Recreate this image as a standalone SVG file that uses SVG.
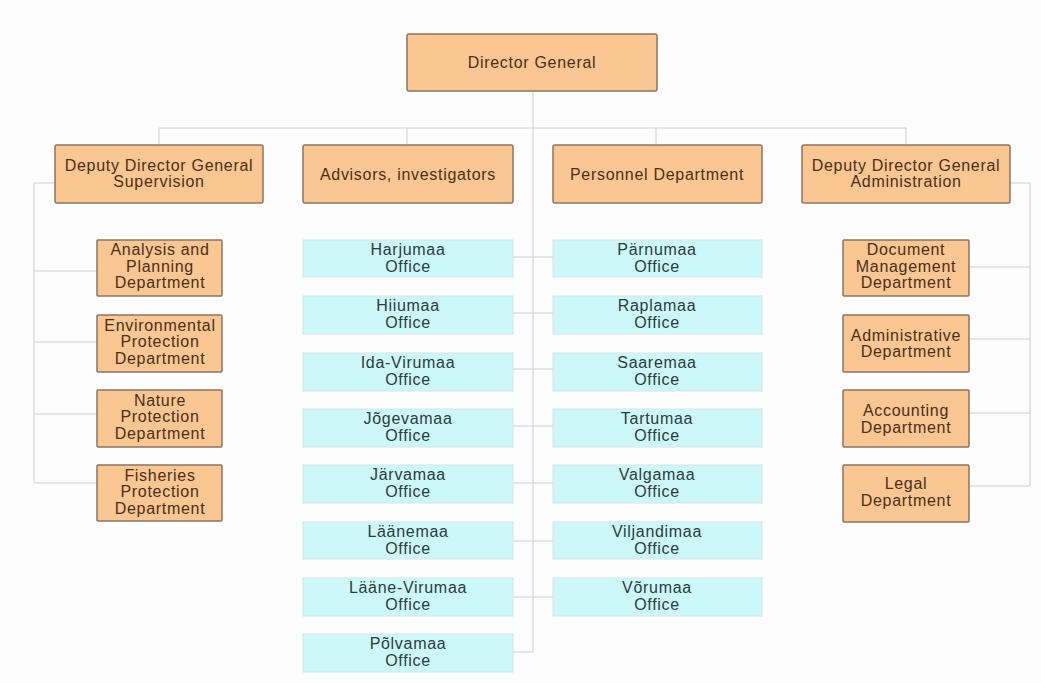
<svg xmlns="http://www.w3.org/2000/svg" width="1041" height="683" viewBox="0 0 1041 683">
<style>
.o rect{fill:#FAC691;stroke:#8a7562;stroke-width:1.5}
.c rect{fill:#CDF8FA;stroke:#d2e6e6;stroke-width:1}
text{font-family:"Liberation Sans",Arial,sans-serif;font-size:16px;letter-spacing:0.7px;text-anchor:middle}
.o text{fill:#4a3019}
.c text{fill:#2c3b3c}
#connectors path{fill:none;stroke:#c9d0d0;stroke-width:1}
</style>
<rect width="1041" height="683" fill="#fdfdfd"/>
<g id="connectors">
<path d="M533 91V652M159 128H906M159 128V145M407 128V145M656 128V145M906 128V145"/>
<path d="M55 183H34V483M34 271H97M34 342H97M34 414H97M34 483H97"/>
<path d="M1010 183H1030V486M969 267H1030M969 339H1030M969 413H1030M969 486H1030"/>
<path d="M513 257H533M513 313H533M513 369H533M513 426H533M513 483H533M513 541H533M513 597H533M513 652H533"/>
<path d="M533 257H553M533 313H553M533 369H553M533 426H553M533 483H553M533 541H553M533 597H553"/>
</g>
<g id="director-general" class="o"><rect x="407" y="34" width="250" height="57" rx="2"/><text x="532" y="68">Director General</text></g>
<g id="ddg-supervision" class="o"><rect x="55" y="145" width="208" height="58" rx="2"/><text x="159" y="171">Deputy Director General</text><text x="159" y="187">Supervision</text></g>
<g id="advisors" class="o"><rect x="303" y="145" width="210" height="58" rx="2"/><text x="408" y="180">Advisors, investigators</text></g>
<g id="personnel" class="o"><rect x="553" y="145" width="209" height="58" rx="2"/><text x="657" y="180">Personnel Department</text></g>
<g id="ddg-administration" class="o"><rect x="802" y="145" width="208" height="58" rx="2"/><text x="906" y="171">Deputy Director General</text><text x="906" y="187">Administration</text></g>
<g id="analysis" class="o"><rect x="97" y="240" width="125" height="56" rx="1"/><text x="160" y="255">Analysis and</text><text x="160" y="272">Planning</text><text x="160" y="288">Department</text></g>
<g id="environmental" class="o"><rect x="97" y="315" width="125" height="57" rx="1"/><text x="160" y="331">Environmental</text><text x="160" y="347">Protection</text><text x="160" y="364">Department</text></g>
<g id="nature" class="o"><rect x="97" y="390" width="125" height="57" rx="1"/><text x="160" y="406">Nature</text><text x="160" y="422">Protection</text><text x="160" y="439">Department</text></g>
<g id="fisheries" class="o"><rect x="97" y="465" width="125" height="56" rx="1"/><text x="160" y="481">Fisheries</text><text x="160" y="497">Protection</text><text x="160" y="514">Department</text></g>
<g id="document" class="o"><rect x="843" y="240" width="126" height="56" rx="1"/><text x="906" y="255">Document</text><text x="906" y="272">Management</text><text x="906" y="288">Department</text></g>
<g id="administrative" class="o"><rect x="843" y="315" width="126" height="57" rx="1"/><text x="906" y="341">Administrative</text><text x="906" y="357">Department</text></g>
<g id="accounting" class="o"><rect x="843" y="390" width="126" height="57" rx="1"/><text x="906" y="416">Accounting</text><text x="906" y="433">Department</text></g>
<g id="legal" class="o"><rect x="843" y="465" width="126" height="57" rx="1"/><text x="906" y="489">Legal</text><text x="906" y="506">Department</text></g>
<g id="harjumaa" class="c"><rect x="303" y="240" width="210" height="37"/><text x="408" y="255">Harjumaa</text><text x="408" y="272">Office</text></g>
<g id="hiiumaa" class="c"><rect x="303" y="296" width="210" height="38"/><text x="408" y="311">Hiiumaa</text><text x="408" y="328">Office</text></g>
<g id="ida-virumaa" class="c"><rect x="303" y="353" width="210" height="38"/><text x="408" y="368">Ida-Virumaa</text><text x="408" y="385">Office</text></g>
<g id="jogevamaa" class="c"><rect x="303" y="409" width="210" height="38"/><text x="408" y="424">Jõgevamaa</text><text x="408" y="441">Office</text></g>
<g id="jarvamaa" class="c"><rect x="303" y="465" width="210" height="38"/><text x="408" y="480">Järvamaa</text><text x="408" y="497">Office</text></g>
<g id="laanemaa" class="c"><rect x="303" y="522" width="210" height="37"/><text x="408" y="537">Läänemaa</text><text x="408" y="554">Office</text></g>
<g id="laane-virumaa" class="c"><rect x="303" y="578" width="210" height="38"/><text x="408" y="593">Lääne-Virumaa</text><text x="408" y="610">Office</text></g>
<g id="polvamaa" class="c"><rect x="303" y="634" width="210" height="38"/><text x="408" y="649">Põlvamaa</text><text x="408" y="666">Office</text></g>
<g id="parnumaa" class="c"><rect x="553" y="240" width="209" height="37"/><text x="657" y="255">Pärnumaa</text><text x="657" y="272">Office</text></g>
<g id="raplamaa" class="c"><rect x="553" y="296" width="209" height="38"/><text x="657" y="311">Raplamaa</text><text x="657" y="328">Office</text></g>
<g id="saaremaa" class="c"><rect x="553" y="353" width="209" height="38"/><text x="657" y="368">Saaremaa</text><text x="657" y="385">Office</text></g>
<g id="tartumaa" class="c"><rect x="553" y="409" width="209" height="38"/><text x="657" y="424">Tartumaa</text><text x="657" y="441">Office</text></g>
<g id="valgamaa" class="c"><rect x="553" y="465" width="209" height="38"/><text x="657" y="480">Valgamaa</text><text x="657" y="497">Office</text></g>
<g id="viljandimaa" class="c"><rect x="553" y="522" width="209" height="37"/><text x="657" y="537">Viljandimaa</text><text x="657" y="554">Office</text></g>
<g id="vorumaa" class="c"><rect x="553" y="578" width="209" height="38"/><text x="657" y="593">Võrumaa</text><text x="657" y="610">Office</text></g>
</svg>
